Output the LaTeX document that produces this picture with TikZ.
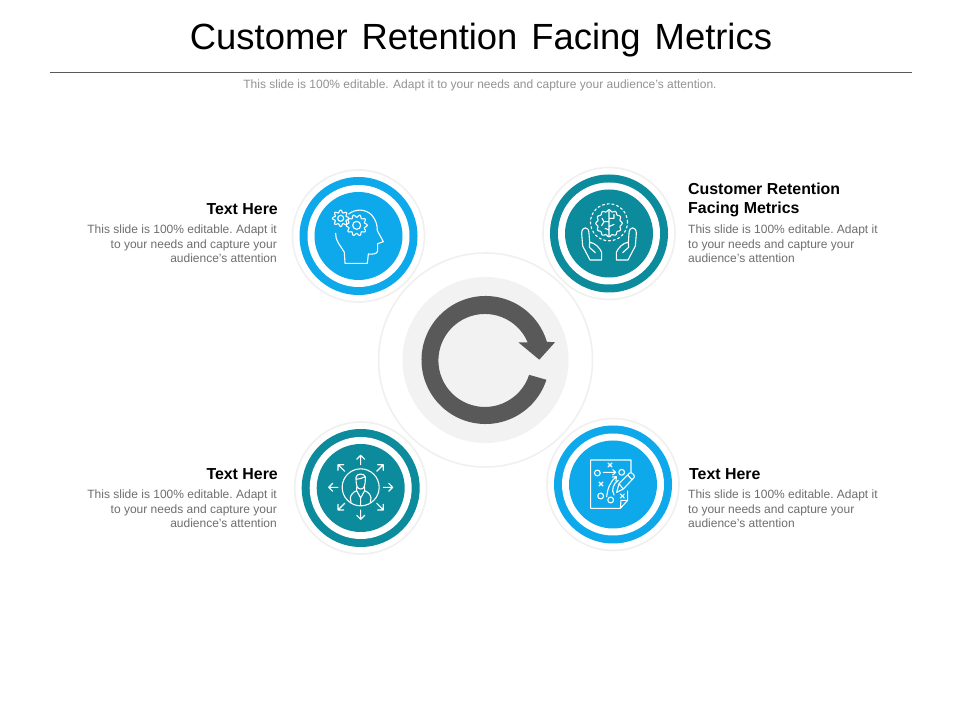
\documentclass[tikz,border=0pt]{standalone}
\usepackage{fontspec}
\setmainfont{Liberation Sans}
\definecolor{bluec}{HTML}{0EA9EA}
\definecolor{tealc}{HTML}{0C8B9C}
\definecolor{darkc}{HTML}{595959}
\definecolor{softc}{HTML}{F2F2F2}
\definecolor{haloc}{HTML}{F0F0F0}
\definecolor{bodyc}{HTML}{6E6E6E}
\newcommand{\cogwheel}[5]{% cx cy radius tooth teeth
  \draw[iconline] plot[samples=#5*6+1,domain=0:360,variable=\t]
    ({#1+(#3+#4*cos(#5*\t))*cos(\t)},{#2+(#3+#4*cos(#5*\t))*sin(\t)}) -- cycle;
}
\tikzset{
  iconline/.style={draw=white,line width=1.1pt,line join=round,line cap=round},
  iconframe/.style={x=0.33333pt,y=-0.33333pt},
  halo/.style={circle,draw=haloc,line width=1.6pt,fill=white,minimum size=132pt,inner sep=0pt},
  ringouter/.style={circle,fill=#1,minimum size=118pt,inner sep=0pt},
  ringgap/.style={circle,fill=white,minimum size=102pt,inner sep=0pt},
  ringdisc/.style={circle,fill=#1,minimum size=88pt,inner sep=0pt},
  headtext/.style={font=\fontsize{15.9}{19}\selectfont\bfseries,text=black,inner sep=0pt},
  bodytext/.style={font=\fontsize{12}{14.7}\selectfont\frenchspacing,text=bodyc,inner sep=0pt},
}
\begin{document}
\begin{tikzpicture}[x=1pt,y=1pt]
\useasboundingbox (0,0) rectangle (960,720);
\fill[white] (0,0) rectangle (960,720);
% title
\node[font=\fontsize{36.4}{40}\selectfont,text=black,inner sep=0pt] (title) at (481,680) {\spaceskip=14pt\relax Customer Retention Facing Metrics};
\coordinate (ruleL) at (50,648);
\coordinate (ruleR) at (912,648);
\draw[draw=darkc,line width=0.7pt] (ruleL) -- (ruleR);
\node[font=\fontsize{12}{14}\selectfont,text=gray!85,inner sep=0pt] (subtitle) at (480,634.5) {This slide is 100\% editable. Adapt it to your needs and capture your audience's attention.};
% centre
\node[circle,draw=haloc,line width=1.6pt,fill=white,minimum size=214pt,inner sep=0pt] (centerhalo) at (485.5,360) {};
\node[circle,fill=softc,minimum size=166pt,inner sep=0pt] (centerdisc) at (485.5,360) {};
\fill[darkc] (485.5,360) ++(-18:64) arc[start angle=-18,end angle=-343.5,radius=64]
  -- (555,377.7) -- (539.3,360.3) -- (518.3,377.7) -- (527.7,377.7)
  arc[start angle=23,end angle=342,radius=46.5] -- cycle;
% circles
\foreach \n/\cx/\cy/\col in {a/358.5/484/bluec,b/609/486.5/tealc,c/360.7/232/tealc,d/613/235.5/bluec}{
  \node[halo] (halo\n) at (\cx,\cy) {};
  \node[ringouter=\col] (ring\n) at (\cx,\cy) {};
  \node[ringgap] (gap\n) at (\cx,\cy) {};
  \node[ringdisc=\col] (disc\n) at (\cx,\cy) {};
}
% icon: head with gears
\begin{scope}[shift={(290,555)},iconframe]
  \draw[iconline] (137,205) .. controls (135,225) and (150,240) .. (163,262) -- (165,295) -- (232,295) -- (235,267)
    .. controls (245,268) and (262,268) .. (263,258) -- (263,236) -- (280,230) -- (262,197)
    .. controls (262,180) and (258,165) .. (245,150)
    .. controls (225,130) and (195,132) .. (176,147);
  \cogwheel{152}{160}{21}{4}{8}
  \draw[iconline] (152,160) circle[radius=3pt];
  \cogwheel{200}{181}{28}{4}{10}
  \draw[iconline] (200,181) circle[radius=4pt];
\end{scope}
% icon: brain in hands
\begin{scope}[shift={(540,555)},iconframe]
  \draw[iconline,dash pattern=on 2.2pt off 2.6pt] (207,172) circle[radius=18.5pt];
  \draw[iconline] plot[smooth cycle,samples=60,domain=0:354,variable=\t]
    ({207+(37+3*cos(12*\t))*cos(\t)},{175+(38+3*cos(12*\t))*sin(\t)});
  \draw[iconline] (207,137) -- (207,213)
    (207,160) -- (222,160) (222,160) -- (222,148) (207,185) -- (222,178) (207,195) -- (195,190)
    (207,170) -- (192,170) -- (186,160) (192,170) -- (185,182);
  \foreach \m/\o in {1/0,-1/414}{
    \draw[iconline] ({\o+\m*150},285) -- ({\o+\m*128},243) -- ({\o+\m*125},205)
      .. controls ({\o+\m*125},183) and ({\o+\m*147},183) .. ({\o+\m*147},205)
      -- ({\o+\m*149},232) .. controls ({\o+\m*162},232) and ({\o+\m*180},248) .. ({\o+\m*185},262)
      -- ({\o+\m*185},285) -- cycle
      ({\o+\m*149},232) -- ({\o+\m*148},247) -- ({\o+\m*166},263);
  }
\end{scope}
% icon: person with arrows
\begin{scope}[shift={(290,302)},iconframe]
  \draw[iconline] (212,208) circle[radius=18.5pt];
  \foreach \dx/\dy/\hx/\hy in {
     0/-1/1/0, 0/1/1/0, -1/0/0/1, 1/0/0/1,
     .7071/-.7071/.7071/.7071, .7071/.7071/.7071/-.7071,
     -.7071/-.7071/.7071/-.7071, -.7071/.7071/.7071/.7071}{
    \draw[iconline] ({212+68*\dx},{208+68*\dy}) -- ({212+96*\dx},{208+96*\dy})
      ({212+84*\dx+12*\hx},{208+84*\dy+12*\hy}) -- ({212+96*\dx},{208+96*\dy}) -- ({212+84*\dx-12*\hx},{208+84*\dy-12*\hy});
  }
  \draw[iconline] (198,178) .. controls (198,205) and (202,213) .. (212,213)
    .. controls (222,213) and (226,205) .. (226,178) .. controls (226,165) and (198,165) .. (198,178)
    (198,184) .. controls (208,184) and (216,180) .. (226,176)
    (200,207) -- (200,218) .. controls (190,222) and (182,230) .. (181,240) -- (183,253)
    (224,207) -- (224,218) .. controls (234,222) and (242,230) .. (243,240) -- (241,253)
    (200,218) -- (212,240) -- (224,218)
    (212,240) -- (212,260);
\end{scope}
% icon: playbook
\begin{scope}[shift={(545,305)},iconframe]
  \draw[iconline] (258,172) -- (258,135) -- (137,135) -- (137,280) -- (226,280) -- (248,256) -- (248,228)
    (248,256) -- (228,256) -- (226,280);
  \foreach \cx/\cy in {157/174,230/172,167/243,197/255}{
    \draw[iconline] (\cx,\cy) circle[radius=2.9pt];
  }
  \foreach \cx/\cy in {195/150,168/207,232/243}{
    \draw[iconline] ({\cx-6},{\cy-6}) -- ({\cx+6},{\cy+6}) ({\cx-6},{\cy+6}) -- ({\cx+6},{\cy-6});
  }
  \draw[iconline] (175,172) -- (212,172) (203,164) -- (212,172) -- (203,180);
  \draw[iconline] (185,245) .. controls (188,220) and (195,200) .. (214,185)
    (202,186) -- (214,185) -- (213,198);
  \draw[iconline] (207,240) .. controls (198,225) and (205,205) .. (220,196);
  \draw[iconline] (215,232) -- (222,206) -- (254,174) .. controls (260,170) and (272,182) .. (267,188) -- (235,222) -- cycle
    (222,206) -- (235,222) (248,180) -- (261,194);
\end{scope}
% texts
\node[headtext,anchor=east] (h1) at (278,510.5) {Text Here};
\node[bodytext,anchor=north east,align=right] (b1) at (277,495.5) {This slide is 100\% editable. Adapt it\\to your needs and capture your\\audience's attention};
\node[headtext,anchor=north west,align=left] (h2) at (688,537) {Customer Retention\\Facing Metrics};
\node[bodytext,anchor=north west,align=left] (b2) at (688,495.5) {This slide is 100\% editable. Adapt it\\to your needs and capture your\\audience's attention};
\node[headtext,anchor=east] (h3) at (278,245.5) {Text Here};
\node[bodytext,anchor=north east,align=right] (b3) at (277,230.5) {This slide is 100\% editable. Adapt it\\to your needs and capture your\\audience's attention};
\node[headtext,anchor=west] (h4) at (689,245.5) {Text Here};
\node[bodytext,anchor=north west,align=left] (b4) at (688,230.5) {This slide is 100\% editable. Adapt it\\to your needs and capture your\\audience's attention};
\end{tikzpicture}
\end{document}
